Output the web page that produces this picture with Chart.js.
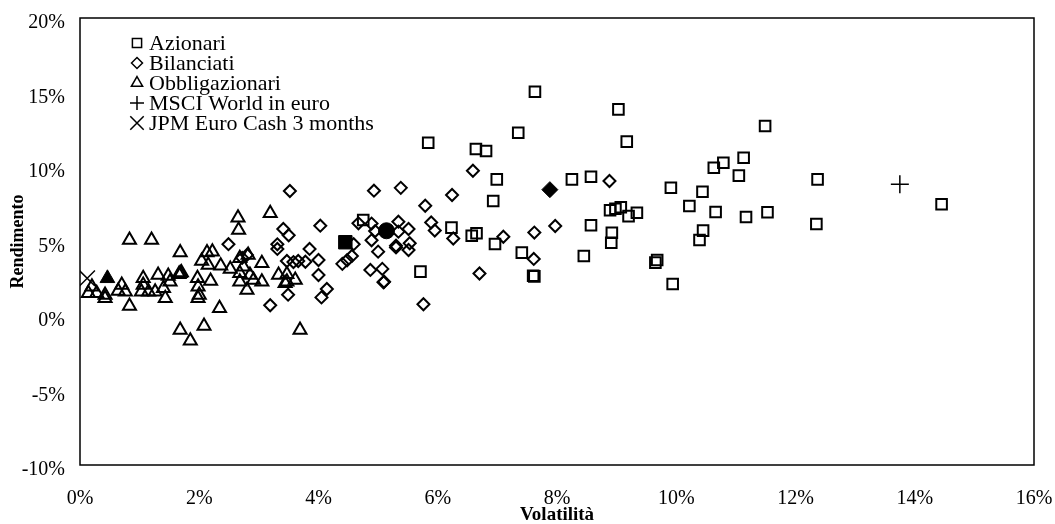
<!DOCTYPE html>
<html>
<head>
<meta charset="utf-8">
<script src="https://cdn.jsdelivr.net/npm/chart.js@4.4.0/dist/chart.umd.min.js"></script>
<style>
    html, body { margin: 0; padding: 0; background: #fff; }
</style>
</head>
<body>
<canvas id="chartScatter" width="1055" height="524"></canvas>
<script>
// [volatilita %, rendimento %]
var azionari = [[7.63,15.05],[9.03,13.87],[7.35,12.3],[9.17,11.7],[11.49,12.75],[11.13,10.62],[10.79,10.29],[10.63,9.95],
    [11.05,9.42],[6.99,9.17],[8.25,9.17],[8.57,9.35],[9.91,8.61],[10.44,8.34],[10.22,7.38],[10.66,6.98],[11.17,6.64],
    [11.53,6.96],[8.89,7.1],[8.98,7.2],[9.07,7.3],[9.2,6.7],[9.34,6.93],[8.57,6.09],[8.92,5.59],[8.91,4.92],[10.45,5.73],
    [10.39,5.1],[8.45,4.03],[7.41,4.25],[7.6,2.7],[7.62,2.66],[9.68,3.76],[9.65,3.58],[9.94,2.15],[12.37,9.17],[12.35,6.17],
    [14.45,7.5],[5.84,11.63],[6.64,11.21],[6.81,11.07],[6.93,7.72],[6.23,5.93],[5.71,2.98],[6.57,5.39],[6.65,5.55],
    [6.96,4.83],[4.75,6.44]];
var bilanciati = [[3.52,8.39],[4.93,8.41],[5.38,8.6],[6.24,8.12],[5.79,7.4],[6.59,9.75],[3.41,5.84],[3.5,5.42],[4.03,6.06],
    [4.67,6.22],[4.89,6.2],[4.95,5.7],[4.89,5.08],[5.34,6.33],[5.51,5.84],[5.34,5.66],[5.3,4.72],[5.3,4.6],[5.53,4.88],
    [5.51,4.43],[5.0,4.32],[5.89,6.28],[5.95,5.74],[6.26,5.2],[7.1,5.32],[7.62,5.6],[7.61,3.83],[7.97,6.04],[8.88,9.06],
    [4.59,4.82],[4.56,4.03],[4.48,3.74],[4.4,3.5],[4.87,3.09],[5.07,3.16],[5.09,2.26],[5.1,2.3],[5.76,0.79],[6.7,2.85],
    [4.0,2.75],[4.14,1.81],[4.05,1.25],[3.49,1.43],[3.19,0.72],[4.0,3.76],[3.85,4.5],[3.47,3.69],[3.58,3.62],[3.66,3.69],
    [3.78,3.64],[3.31,4.81],[3.31,4.5],[2.49,4.82],[2.8,4.1],[2.72,3.9]];
var obbligazionari = [[3.19,6.89],[2.65,6.6],[2.66,5.77],[2.13,4.27],[2.22,4.32],[2.04,3.69],[2.15,3.42],[2.36,3.38],
    [2.52,3.15],[2.68,3.87],[2.82,4.09],[2.74,3.31],[2.68,2.87],[2.85,2.75],[3.05,3.54],[3.05,2.3],[2.91,2.42],[2.8,1.74],
    [2.68,2.3],[1.97,2.53],[2.19,2.35],[1.98,1.97],[2.0,1.41],[1.98,1.19],[2.34,0.52],[3.33,2.75],[3.47,2.8],[3.47,2.3],
    [3.61,2.42],[3.44,2.19],[3.69,-0.94],[0.83,5.1],[1.2,5.1],[1.68,4.27],[0.2,1.97],[0.14,1.52],[0.28,1.52],[0.42,1.41],
    [0.42,1.19],[0.7,2.08],[0.76,1.63],[0.64,1.68],[0.83,0.67],[1.06,2.53],[1.06,2.08],[1.03,1.63],[1.15,1.63],[1.26,1.63],
    [1.31,2.75],[1.4,1.86],[1.43,1.19],[1.51,2.3],[1.48,2.68],[1.66,2.8],[1.68,2.87],[1.7,2.92],[1.68,-0.94],[1.85,-1.66],
    [2.08,-0.67]];
var msci = [[13.75,8.84]];
var jpm = [[0.12,2.53]];
// punti pieni (medie di categoria)
var medie = [[0.46,2.53],[4.45,4.95],[5.14,5.72],[7.88,8.48]];
var medieStyle = ['triangle', 'rect', 'circle', 'rectRot'];
var medieRadius = [8.5, 9.5, 8, 8];

var xTicks = [0, 2, 4, 6, 8, 10, 12, 14, 16];
var yTicks = [-10, -5, 0, 5, 10, 15, 20];

function toPoints(arr) {
    return arr.map(function (p) { return { x: p[0], y: p[1] }; });
}

var serif = '"Liberation Serif", "Times New Roman", serif';
var none = 'rgba(0,0,0,0)';

var boxAndLegend = {
    id: 'boxAndLegend',
    afterDraw: function (chart) {
        var ctx = chart.ctx, a = chart.chartArea;
        ctx.save();
        ctx.strokeStyle = '#000';
        ctx.lineWidth = 1.5;
        ctx.strokeRect(a.left, a.top, a.right - a.left, a.bottom - a.top);
        // legenda dentro l'area del grafico
        var x0 = a.left + 57, y0 = a.top + 25;
        ctx.font = '22px ' + serif;
        ctx.textBaseline = 'middle';
        chart.data.datasets.forEach(function (ds, i) {
            if (ds.noLegend) return;
            var y = y0 + i * 20;
            ctx.fillStyle = none;
            ctx.strokeStyle = '#000';
            ctx.lineWidth = 1.5;
            Chart.helpers.drawPoint(ctx, { pointStyle: ds.pointStyle, radius: ds.legendRadius, borderWidth: 1.5, rotation: 0 }, x0, y);
            ctx.fillStyle = '#000';
            ctx.fillText(ds.label, x0 + 12, y + 1);
        });
        ctx.restore();
    }
};

var ctx = document.getElementById('chartScatter');
var chart = new Chart(ctx, {
    type: 'scatter',
    data: {
        datasets: [
            { label: 'Azionari', data: toPoints(azionari), pointStyle: 'rect', pointRadius: 7.5, legendRadius: 6.5,
              borderColor: '#000', backgroundColor: none, borderWidth: 2 },
            { label: 'Bilanciati', data: toPoints(bilanciati), pointStyle: 'rectRot', pointRadius: 6, legendRadius: 5.5,
              borderColor: '#000', backgroundColor: none, borderWidth: 2 },
            { label: 'Obbligazionari', data: toPoints(obbligazionari), pointStyle: 'triangle', pointRadius: 7.5, legendRadius: 6.5,
              borderColor: '#000', backgroundColor: none, borderWidth: 2 },
            { label: 'MSCI World in euro', data: toPoints(msci), pointStyle: 'cross', pointRadius: 9, legendRadius: 7,
              borderColor: '#000', backgroundColor: none, borderWidth: 1.5 },
            { label: 'JPM Euro Cash 3 months', data: toPoints(jpm), pointStyle: 'crossRot', pointRadius: 11, legendRadius: 9.5,
              borderColor: '#000', backgroundColor: none, borderWidth: 1.5 },
            { label: 'Medie', noLegend: true, data: toPoints(medie), pointStyle: medieStyle, pointRadius: medieRadius,
              borderColor: '#000', backgroundColor: '#000', borderWidth: 1 }
        ]
    },
    options: {
        responsive: false,
        animation: false,
        devicePixelRatio: 1,
        layout: { padding: { top: 18, right: 21, left: 0, bottom: 0 } },
        plugins: {
            legend: { display: false },
            tooltip: { enabled: false }
        },
        scales: {
            x: {
                type: 'linear', min: 0, max: 16,
                afterBuildTicks: function (s) { s.ticks = xTicks.map(function (v) { return { value: v }; }); },
                afterFit: function (s) { s.height = 59; s.paddingLeft = 0; s.paddingRight = 0; },
                grid: { display: false, drawTicks: false },
                border: { display: false },
                ticks: { color: '#000', padding: 22, font: { family: serif, size: 20 },
                         callback: function (v) { return v + '%'; } },
                title: { display: true, text: 'Volatilità', color: '#000', padding: { top: 0, bottom: -1 },
                         font: { family: serif, size: 19, weight: 'bold', lineHeight: 1 } }
            },
            y: {
                type: 'linear', min: -10, max: 20,
                afterBuildTicks: function (s) { s.ticks = yTicks.map(function (v) { return { value: v }; }); },
                afterFit: function (s) { s.width = 80; s.paddingTop = 0; s.paddingBottom = 0; },
                grid: { display: false, drawTicks: false },
                border: { display: false },
                ticks: { color: '#000', padding: 15, labelOffset: 5, font: { family: serif, size: 20 },
                         callback: function (v) { return v + '%'; } },
                title: { display: true, text: 'Rendimento', color: '#000', padding: { top: 8, bottom: 0 },
                         font: { family: serif, size: 18, weight: 'bold', lineHeight: 1.2 } }
            }
        }
    },
    plugins: [boxAndLegend]
});
</script>
</body>
</html>
